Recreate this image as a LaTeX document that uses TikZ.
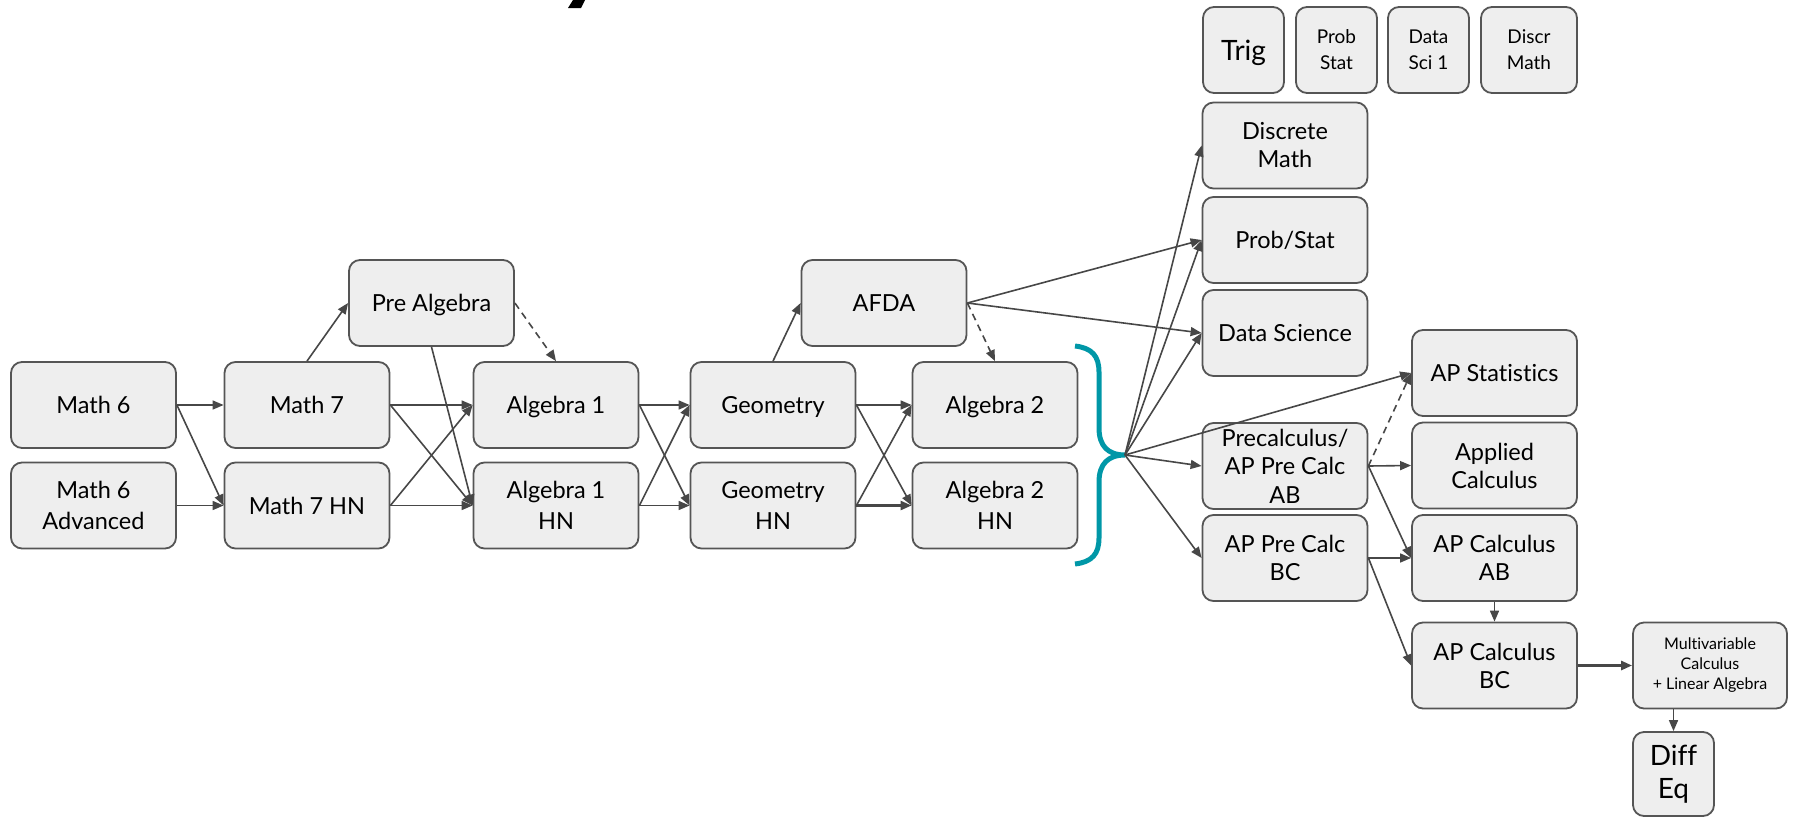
\documentclass[tikz,border=0pt]{standalone}
\usepackage{fontspec}
\setmainfont{Lato}[Ligatures=NoCommon]
\usetikzlibrary{arrows.meta}
\definecolor{boxfill}{HTML}{EEEEEE}
\definecolor{boxline}{HTML}{555555}
\definecolor{arrowc}{HTML}{474747}
\definecolor{bracecol}{HTML}{0097A7}
\begin{document}
\begin{tikzpicture}[x=1pt,y=-1pt,
 box/.style={draw=boxline, fill=boxfill, line width=1.8pt, rounded corners=11pt, align=center, inner sep=0pt, minimum width=165pt, minimum height=86pt, font=\fontsize{23.5}{28}\selectfont},
 one/.style={text height=17pt, text depth=0pt},
 twol/.style={font=\fontsize{23.5}{31}\selectfont},
 small/.style={box, minimum width=81pt, font=\fontsize{19}{26}\selectfont},
 arr/.style={draw=arrowc, line width=1.6pt, -{Triangle[length=11pt,width=9pt]}},
 darr/.style={arr, dash pattern=on 7pt off 5pt},
]
\useasboundingbox (0,0) rectangle (1797,817);
\fill (573,0) -- (585,0) -- (581,8) -- (568,8) -- cycle;
% left part
\node[box, one] (m6) at (93.5,405) {Math 6};
\node[box, twol] (m6a) at (93.5,505.5) {Math 6\\Advanced};
\node[box, one] (m7) at (307,405) {Math 7};
\node[box, one] (m7h) at (307,505.5) {Math 7 HN};
\node[box, one] (pa) at (431.5,303) {Pre Algebra};
\node[box, one] (a1) at (556,405) {Algebra 1};
\node[box, twol] (a1h) at (556,505.5) {Algebra 1\\HN};
\node[box, one] (g) at (773,405) {Geometry};
\node[box, twol] (gh) at (773,505.5) {Geometry\\HN};
\node[box, one] (afda) at (884,303) {AFDA};
\node[box, one] (a2) at (995,405) {Algebra 2};
\node[box, twol] (a2h) at (995,505.5) {Algebra 2\\HN};
% right part
\node[box] (dm) at (1285,145.5) {Discrete\\Math};
\node[box, one] (ps) at (1285,240) {Prob/Stat};
\node[box, one] (ds) at (1285,333) {Data Science};
\node[box, font=\fontsize{23.5}{28.5}\selectfont] (pc) at (1285,466) {Precalculus/\\AP Pre Calc\\AB};
\node[box] (bc) at (1285,558) {AP Pre Calc\\BC};
\node[box, one] (st) at (1494.5,373) {AP Statistics};
\node[box] (ac) at (1494.5,465.5) {Applied\\Calculus};
\node[box] (cab) at (1494.5,558) {AP Calculus\\AB};
\node[box] (cbc) at (1494.5,665.5) {AP Calculus\\BC};
\node[box, minimum width=154pt, font=\fontsize{16}{20}\selectfont] (mv) at (1710,665.5) {Multivariable\\Calculus\\+ Linear Algebra};
\node[box, minimum width=81pt, minimum height=84pt, font=\fontsize{28}{33}\selectfont] (de) at (1673.5,774) {Diff\\Eq};
% top small boxes
\node[box, minimum width=81pt, font=\fontsize{28}{32}\selectfont, text height=20pt, text depth=0pt] (tr) at (1243.5,50) {Trig};
\node[small] (ps2) at (1336.5,50) {Prob\\Stat};
\node[small] (ds2) at (1428.5,50) {Data\\Sci 1};
\node[small, minimum width=96pt] (dm2) at (1529,50) {Discr\\Math};
% brace
\coordinate (tip) at (1125,455);
\draw[bracecol, line width=5pt] (1075,346) .. controls (1092,348) and (1099,356) .. (1099,372) -- (1099,428) .. controls (1099,446) and (1108,455) .. (tip) .. controls (1108,455) and (1099,464) .. (1099,482) -- (1099,538) .. controls (1099,554) and (1092,562) .. (1075,564);
% edges
\draw[arr] (m6.east) -- (m7.west);
\draw[arr] (m6.east) -- (m7h.west);
\draw[arr] (m6a.east) -- (m7h.west);
\draw[arr] (m7.north) -- (pa.west);
\draw[arr] (m7.east) -- (a1.west);
\draw[arr] (m7.east) -- (a1h.west);
\draw[arr] (m7h.east) -- (a1.west);
\draw[arr] (m7h.east) -- (a1h.west);
\draw[arr] (pa.south) -- (a1h.west);
\draw[darr] (pa.east) -- (a1.north);
\draw[arr] (a1.east) -- (g.west);
\draw[arr] (a1.east) -- (gh.west);
\draw[arr] (a1h.east) -- (g.west);
\draw[arr] (a1h.east) -- (gh.west);
\draw[arr] (g.north) -- (afda.west);
\draw[arr] (g.east) -- (a2.west);
\draw[arr] (g.east) -- (a2h.west);
\draw[arr] (gh.east) -- (a2.west);
\draw[arr, line width=2.4pt] (gh.east) -- (a2h.west);
\draw[darr] (afda.east) -- (a2.north);
\draw[arr] (afda.east) -- (ps.west);
\draw[arr] (afda.east) -- (ds.west);
\draw[arr] (tip) -- (dm.west);
\draw[arr] (tip) -- (ps.west);
\draw[arr] (tip) -- (ds.west);
\draw[arr] (tip) -- (st.west);
\draw[arr] (tip) -- (pc.west);
\draw[arr] (tip) -- (bc.west);
\draw[arr] (pc.east) -- (ac.west);
\draw[darr] (pc.east) -- (st.west);
\draw[arr] (pc.east) -- (cab.west);
\draw[arr] (bc.east) -- (cab.west);
\draw[arr] (bc.east) -- (cbc.west);
\draw[arr] (cab.south) -- (cbc.north);
\draw[arr, line width=2.6pt] (cbc.east) -- (mv.west);
\draw[arr] (de.north |- mv.south) -- (de.north);
\end{tikzpicture}
\end{document}
